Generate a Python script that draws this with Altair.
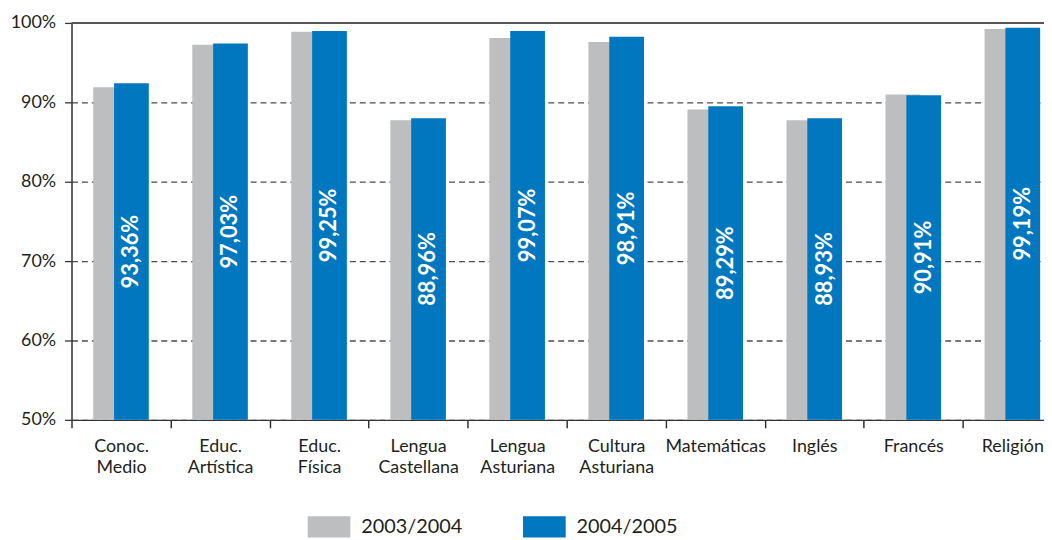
import altair as alt
import pandas as pd

categories = ["Conoc.\nMedio", "Educ.\nArtística", "Educ.\nFísica", "Lengua\nCastellana",
              "Lengua\nAsturiana", "Cultura\nAsturiana", "Matemáticas", "Inglés",
              "Francés", "Religión"]
years = ["2003/2004", "2004/2005"]
v0304 = [91.9, 97.25, 98.9, 87.75, 98.1, 97.6, 89.1, 87.75, 91.0, 99.25]
v0405 = [92.4, 97.4, 99.0, 88.0, 99.0, 98.25, 89.5, 88.0, 90.9, 99.4]
labels0405 = ["93,36%", "97,03%", "99,25%", "88,96%", "99,07%", "98,91%",
              "89,29%", "88,93%", "90,91%", "99,19%"]
y_ticks = [50, 60, 70, 80, 90, 100]

GRAY = "#BDBEC0"
BLUE = "#0077BE"
TXT = "#231F20"

df = pd.DataFrame({
    "category": categories * 2,
    "year": [years[0]] * len(categories) + [years[1]] * len(categories),
    "value": v0304 + v0405,
})
df_lab = pd.DataFrame({"category": categories, "value": v0405, "label": labels0405})
df_top = pd.DataFrame({"y": [100]})

xscale = alt.Scale(domain=categories, range=[0, 998], paddingInner=0, paddingOuter=0)
yscale = alt.Scale(domain=[50, 100], nice=False, zero=False)

x_enc = alt.X("category:N", scale=xscale, sort=categories, title=None,
              axis=alt.Axis(labelAngle=0, tickBand="extent", labelExpr="split(datum.label, '\\n')",
                            labelFontSize=18, labelLineHeight=21, labelColor=TXT,
                            labelPadding=10, tickSize=8, tickColor="#333", tickWidth=1.5,
                            domainColor="#333", domainWidth=1.5, grid=False))
y_enc = alt.Y("value:Q", scale=yscale, title=None,
              axis=alt.Axis(values=y_ticks, format="d", labelExpr="datum.value + '%'",
                            labelFontSize=18, labelColor=TXT, labelPadding=9,
                            tickSize=7, tickColor="#333", tickWidth=1.3,
                            domainColor="#333", domainWidth=1.5,
                            grid=True, gridDash=[6, 4], gridColor="#4d4d4d", gridWidth=1.3))

color_enc = alt.Color("year:N", scale=alt.Scale(domain=years, range=[GRAY, BLUE]),
                      legend=alt.Legend(title=None, orient="none", direction="horizontal",
                                        legendX=238, legendY=486, padding=0,
                                        symbolType="M-1,-0.5H1V0.5H-1Z", symbolSize=1849,
                                        symbolStrokeWidth=0, symbolOpacity=1,
                                        labelFontSize=20, labelColor=TXT, labelOffset=11,
                                        columnPadding=61))

top_rule = alt.Chart(df_top).mark_rule(color="#555", strokeWidth=2).encode(
    y=alt.Y("y:Q", scale=yscale))

gray_bars = alt.Chart(df).transform_filter(alt.datum.year == years[0]).mark_bar(
    width=35, xOffset=-10.5, opacity=1).encode(x=x_enc, y=y_enc, y2=alt.datum(50),
                                              color=color_enc)

blue_bars = alt.Chart(df).transform_filter(alt.datum.year == years[1]).mark_bar(
    width=35, xOffset=10.5, opacity=1).encode(x=x_enc, y=y_enc, y2=alt.datum(50),
                                             color=color_enc)

texts = alt.Chart(df_lab).transform_calculate(mid="(datum.value + 50) / 2").mark_text(
    angle=270, color="white", fontSize=22, fontWeight="bold", align="center",
    baseline="middle", xOffset=10.5).encode(
    x=alt.X("category:N", scale=xscale, sort=categories),
    y=alt.Y("mid:Q", scale=yscale),
    text="label:N")

chart = alt.layer(top_rule, gray_bars, blue_bars, texts).properties(
    width=980, height=400,
    autosize=alt.AutoSizeParams(type="none"),
    padding={"left": 64, "top": 13, "right": 0, "bottom": 119},
).configure(font="Lato").configure_view(strokeWidth=0)

chart.save("out.html", embed_options={"renderer": "svg", "actions": False})
